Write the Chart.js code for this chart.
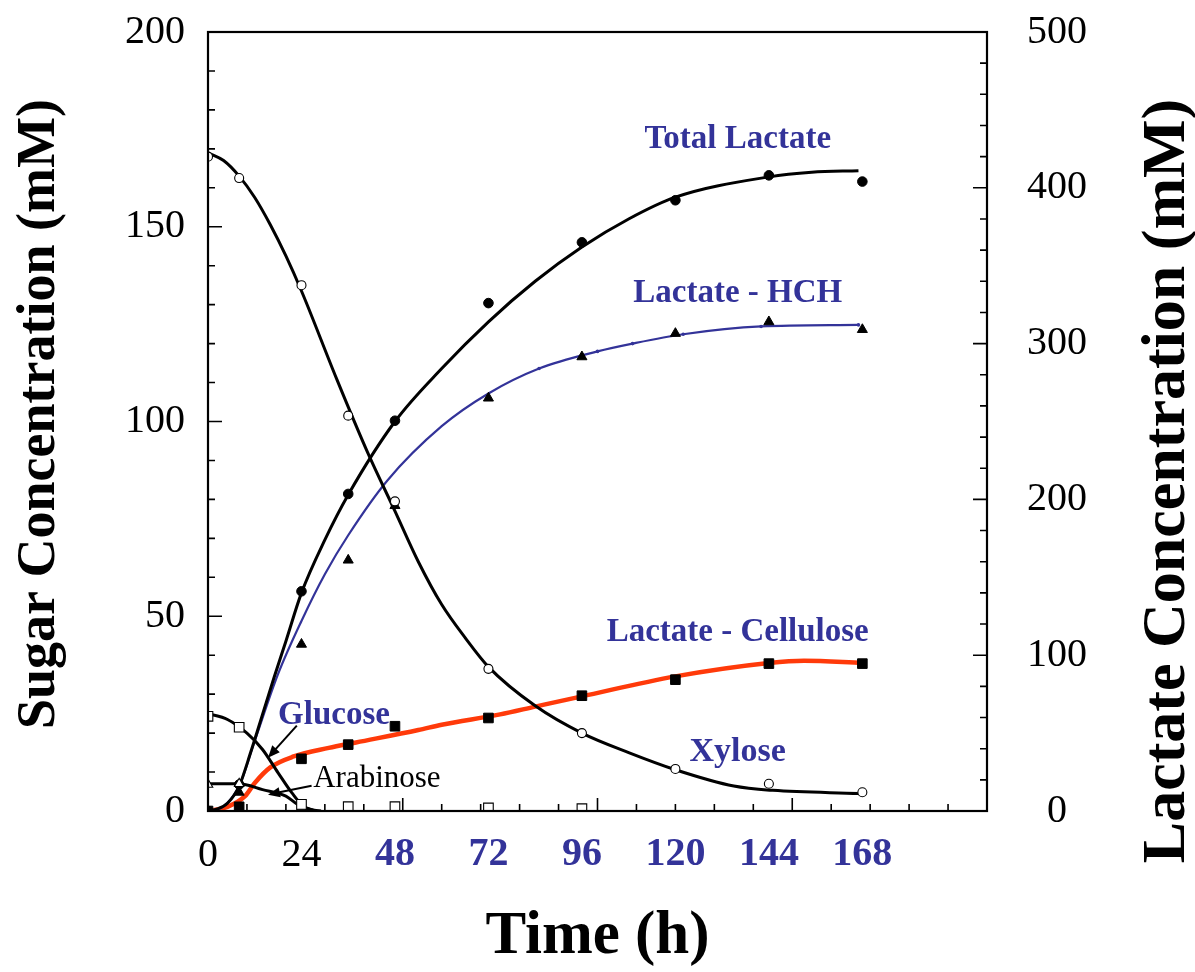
<!DOCTYPE html>
<html lang="en">
<head>
<meta charset="UTF-8">
<title>Sugar and lactate concentration vs time</title>
<script src="https://cdn.jsdelivr.net/npm/chart.js@4"></script>
<style>
  html, body { margin: 0; padding: 0; background: #fff; }
  canvas { display: block; }
</style>
</head>
<body>
<canvas id="chart" width="1195" height="972"></canvas>
<script>
// measured points (h)
const sampleHours = [0, 8, 24, 36, 48, 72, 96, 120, 144, 168];
const xyloseMeasured = [168, 162.5, 135, 101.5, 79.5, 36.5, 20, 10.8, 7.0, 4.8];
const totalLactateMeasured = [0, 17, 141, 203.5, 250.5, 326, 365, 392, 408, 404];
const lactateHchMeasured = [0, 12, 107, 161, 196, 265, 291.5, 306.5, 314, 309];
const lactateCellMeasured = [0, 2.7, 33.5, 42.6, 54.4, 59.7, 74, 84.3, 94.6, 94.6];

const glucoseHours = [0, 8, 24, 36, 48, 72, 96];
const glucoseMeasured = [24.3, 21.5, 1.7, 1.1, 1.1, 0.8, 0.6];
const arabinoseHours = [0, 8, 24, 36, 48];
const arabinoseMeasured = [6.8, 7.0, 1.0, 0.6, 0.6];

// fitted curves
const xyloseFitHours = [0, 4, 8, 12, 16, 20, 24, 33, 41, 48, 54, 60, 66, 72, 84, 96, 108, 120, 135, 145, 167];
const xyloseFit = [169, 167, 163, 157.5, 150.5, 142.5, 133.5, 111, 92, 77, 64, 53, 44.5, 37, 27, 20, 15, 10.6, 6.4, 5.3, 4.5];
const glucoseFitHours = [0, 5, 10, 14, 18, 21.5, 25, 29];
const glucoseFit = [25, 23.5, 20, 15.8, 9.8, 4.7, 0.8, 0];
const arabinoseFitHours = [0, 8, 14, 20, 23, 27];
const arabinoseFit = [7.0, 7.0, 5.5, 3.8, 1.7, 0.2];
const totalFitHours = [0, 2, 5, 8, 11, 14, 17, 20, 24, 30, 36, 48, 60, 72, 84, 96, 108, 120, 144, 155, 167];
const totalFit = [0, 1, 5, 16, 38, 62, 86, 109, 140, 174, 203, 250, 284, 314, 340, 362, 380, 394, 407, 410, 411];
const hchFitHours = [0, 4, 8, 12, 18, 24, 30, 36, 46, 60, 72, 85, 100, 109, 122, 142, 167];
const hchFit = [0, 3, 16, 45, 88, 122, 152, 177, 212, 247, 268, 284, 295, 300, 306, 311, 312];
const cellFitHours = [0, 5, 9.5, 12, 16, 22, 31, 38, 54, 60, 75, 84, 96, 120, 144, 153, 168];
const cellFit = [0, 2.7, 9.5, 18, 28, 35, 40.5, 44, 52, 55.4, 62, 67, 73.6, 86.4, 95, 96.5, 95];

// axes
const timeLabels = [0, 24, 48, 72, 96, 120, 144, 168];
const sugarLabels = [0, 50, 100, 150, 200];
const lactateLabels = [0, 100, 200, 300, 400, 500];

const BLUE = '#333399';
const RED = '#ff3a0a';
const SERIF = '"Liberation Serif", "Times New Roman", serif';

function pts(xs, ys) {
    return xs.map((x, i) => ({ x: x, y: ys[i] }));
}

function curve(label, xs, ys, axis, color, width) {
    return {
        label: label, data: pts(xs, ys), yAxisID: axis,
        showLine: true, borderColor: color, borderWidth: width,
        pointRadius: 0, cubicInterpolationMode: 'monotone', order: 2
    };
}

function marks(label, xs, ys, axis, style, radius, filled) {
    return {
        label: label, data: pts(xs, ys), yAxisID: axis, showLine: false,
        pointStyle: style, pointRadius: radius,
        pointBackgroundColor: filled ? '#000' : '#fff',
        pointBorderColor: '#000', pointBorderWidth: filled ? 1 : 1.1, order: 1
    };
}

const hchCurve = curve('Lactate - HCH fit', hchFitHours, hchFit, 'yLac', BLUE, 2.2);
hchCurve.pointRadius = ctx => (ctx.raw && ctx.raw.x >= 80 ? 1.8 : 0);
hchCurve.pointBackgroundColor = BLUE;
hchCurve.pointBorderWidth = 0;

const datasets = [
    curve('Xylose fit', xyloseFitHours, xyloseFit, 'ySugar', '#000', 3),
    curve('Glucose fit', glucoseFitHours, glucoseFit, 'ySugar', '#000', 3),
    curve('Arabinose fit', arabinoseFitHours, arabinoseFit, 'ySugar', '#000', 3),
    curve('Total Lactate fit', totalFitHours, totalFit, 'yLac', '#000', 3),
    hchCurve,
    curve('Lactate - Cellulose fit', cellFitHours, cellFit, 'yLac', RED, 4.5),
    marks('Xylose', sampleHours, xyloseMeasured, 'ySugar', 'circle', 4.5, false),
    marks('Glucose', glucoseHours, glucoseMeasured, 'ySugar', 'rect', 6.8, false),
    marks('Arabinose', arabinoseHours, arabinoseMeasured, 'ySugar', 'triangle', 5.5, false),
    marks('Total Lactate', sampleHours, totalLactateMeasured, 'yLac', 'circle', 4.8, true),
    marks('Lactate - HCH', sampleHours, lactateHchMeasured, 'yLac', 'triangle', 5.8, true),
    marks('Lactate - Cellulose', sampleHours, lactateCellMeasured, 'yLac', 'rect', 6.8, true)
];

// curve names and arrows, positioned in data units (x in h, y on the sugar axis)
const notes = [
    { text: 'Total Lactate', x: 136, y: 170.3, align: 'center', font: 'bold 33px ' + SERIF, color: BLUE },
    { text: 'Lactate - HCH', x: 136, y: 130.6, align: 'center', font: 'bold 33px ' + SERIF, color: BLUE },
    { text: 'Lactate - Cellulose', x: 136, y: 43.7, align: 'center', font: 'bold 33px ' + SERIF, color: BLUE },
    { text: 'Xylose', x: 136, y: 12.8, align: 'center', font: 'bold 34px ' + SERIF, color: BLUE },
    { text: 'Glucose', x: 18, y: 22.4, align: 'left', font: 'bold 33px ' + SERIF, color: BLUE },
    { text: 'Arabinose', x: 27, y: 6.2, align: 'left', font: '31px ' + SERIF, color: '#000' }
];
const arrows = [
    { from: [22.8, 21.9], to: [15.4, 13.7] },
    { from: [26.6, 6.5], to: [15.4, 4.2] }
];

// inward tick marks
const timeTicks = [];
for (let v = 10; v < 200; v += 10) timeTicks.push(v);
const sugarTicks = [];
for (let v = 10; v < 200; v += 10) sugarTicks.push(v);
const lactateTicks = [];
for (let v = 20; v < 500; v += 20) lactateTicks.push(v);

const framePlugin = {
    id: 'frame',
    afterDatasetsDraw(chart) {
        const { ctx, chartArea: a, scales } = chart;
        ctx.save();
        ctx.strokeStyle = '#000';
        ctx.lineWidth = 1.6;
        ctx.beginPath();
        timeTicks.forEach(v => {
            const px = scales.x.getPixelForValue(v);
            const len = v % 50 === 0 ? 13 : 7;
            ctx.moveTo(px, a.bottom);
            ctx.lineTo(px, a.bottom - len);
        });
        sugarTicks.forEach(v => {
            const py = scales.ySugar.getPixelForValue(v);
            const len = v % 50 === 0 ? 14 : 7;
            ctx.moveTo(a.left, py);
            ctx.lineTo(a.left + len, py);
        });
        lactateTicks.forEach(v => {
            const py = scales.yLac.getPixelForValue(v);
            const len = v % 100 === 0 ? 14 : 7;
            ctx.moveTo(a.right, py);
            ctx.lineTo(a.right - len, py);
        });
        ctx.stroke();

        ctx.lineWidth = 2.2;
        ctx.strokeRect(a.left, a.top, a.right - a.left, a.bottom - a.top);

        // arrows
        ctx.fillStyle = '#000';
        ctx.lineWidth = 2;
        arrows.forEach(ar => {
            const x1 = scales.x.getPixelForValue(ar.from[0]);
            const y1 = scales.ySugar.getPixelForValue(ar.from[1]);
            const x2 = scales.x.getPixelForValue(ar.to[0]);
            const y2 = scales.ySugar.getPixelForValue(ar.to[1]);
            const ang = Math.atan2(y2 - y1, x2 - x1);
            const head = 13;
            ctx.beginPath();
            ctx.moveTo(x1, y1);
            ctx.lineTo(x2 - Math.cos(ang) * head * 0.8, y2 - Math.sin(ang) * head * 0.8);
            ctx.stroke();
            ctx.beginPath();
            ctx.moveTo(x2, y2);
            ctx.lineTo(x2 - head * Math.cos(ang - 0.4), y2 - head * Math.sin(ang - 0.4));
            ctx.lineTo(x2 - head * Math.cos(ang + 0.4), y2 - head * Math.sin(ang + 0.4));
            ctx.closePath();
            ctx.fill();
        });

        // curve names
        ctx.textBaseline = 'alphabetic';
        notes.forEach(n => {
            ctx.font = n.font;
            ctx.fillStyle = n.color;
            ctx.textAlign = n.align;
            ctx.fillText(n.text, scales.x.getPixelForValue(n.x), scales.ySugar.getPixelForValue(n.y));
        });

        // vertical axis titles, both reading upwards
        ctx.fillStyle = '#000';
        ctx.textAlign = 'center';
        ctx.font = 'bold 54px ' + SERIF;
        ctx.save();
        ctx.translate(54, 414);
        ctx.rotate(-Math.PI / 2);
        ctx.fillText('Sugar Concentration (mM)', 0, 0);
        ctx.restore();
        ctx.font = 'bold 62px ' + SERIF;
        ctx.save();
        ctx.translate(1184, 481);
        ctx.rotate(-Math.PI / 2);
        ctx.fillText('Lactate Concentration (mM)', 0, 0);
        ctx.restore();
        ctx.restore();
    }
};

function noPad(s) {
    s.paddingTop = 0;
    s.paddingBottom = 0;
    s.paddingLeft = 0;
    s.paddingRight = 0;
}

new Chart(document.getElementById('chart'), {
    type: 'scatter',
    data: { datasets: datasets },
    options: {
        responsive: false,
        animation: false,
        layout: { padding: { top: 32, left: 0, right: 0, bottom: 0 } },
        plugins: { legend: { display: false }, tooltip: { enabled: false } },
        scales: {
            x: {
                type: 'linear', min: 0, max: 200,
                afterBuildTicks: s => { s.ticks = timeLabels.map(v => ({ value: v })); },
                afterFit: s => { s.height = 161; noPad(s); },
                grid: { display: false, drawTicks: false },
                border: { display: false },
                ticks: {
                    padding: 20, autoSkip: false, maxRotation: 0,
                    color: c => (c.tick && c.tick.value >= 48 ? BLUE : '#000'),
                    font: c => (c.tick && c.tick.value >= 48
                        ? { family: SERIF, size: 40, weight: 'bold' }
                        : { family: SERIF, size: 40, weight: 'normal' })
                },
                title: {
                    display: true, text: 'Time (h)', color: '#000',
                    font: { family: SERIF, size: 61, weight: 'bold', lineHeight: 1.14 },
                    padding: { top: 0, bottom: 0 }
                }
            },
            ySugar: {
                type: 'linear', position: 'left', min: 0, max: 200,
                afterBuildTicks: s => { s.ticks = sugarLabels.map(v => ({ value: v })); },
                afterFit: s => { s.width = 208; noPad(s); },
                grid: { display: false, drawTicks: false },
                border: { display: false },
                ticks: { padding: 23, color: '#000', font: { family: SERIF, size: 40 } }
            },
            yLac: {
                type: 'linear', position: 'right', min: 0, max: 500,
                afterBuildTicks: s => { s.ticks = lactateLabels.map(v => ({ value: v })); },
                afterFit: s => { s.width = 208; noPad(s); },
                grid: { display: false, drawTicks: false },
                border: { display: false },
                ticks: { padding: 40, crossAlign: 'center', color: '#000', font: { family: SERIF, size: 40 } }
            }
        }
    },
    plugins: [framePlugin]
});
</script>
</body>
</html>
